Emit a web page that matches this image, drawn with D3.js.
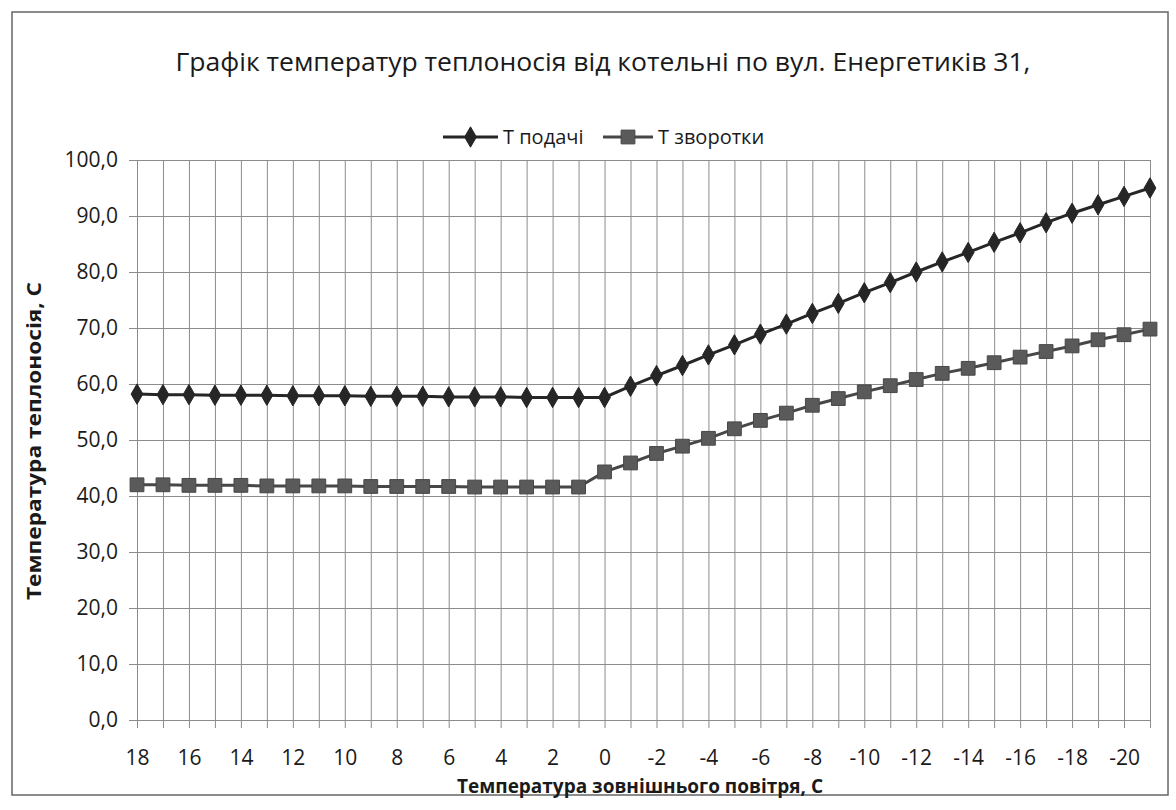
<!DOCTYPE html>
<html>
<head>
<meta charset="utf-8">
<script src="https://cdn.jsdelivr.net/npm/d3@7"></script>
<style>
  html, body { margin: 0; padding: 0; background: #fff; }
  svg { display: block; }
  text { font-family: "Open Sans", "Noto Sans", sans-serif; fill: #1a1a1a; }
  .grid line { stroke: #8c8c8c; stroke-width: 1; }
</style>
</head>
<body>
<svg id="chart" width="1176" height="810"></svg>
<script>
// температура зовнішнього повітря
const categories = [18, 17, 16, 15, 14, 13, 12, 11, 10, 9, 8, 7, 6, 5, 4, 3, 2, 1, 0,
  -1, -2, -3, -4, -5, -6, -7, -8, -9, -10, -11, -12, -13, -14, -15, -16, -17, -18, -19, -20, -21]

// Т подачі
const supply = [58.2, 58.1, 58.1, 58.0, 58.0, 58.0, 57.9, 57.9, 57.9, 57.8, 57.8, 57.8, 57.7, 57.7, 57.7, 57.6, 57.6, 57.6, 57.6,
  59.6, 61.5, 63.3, 65.2, 67.0, 68.9, 70.7, 72.6, 74.4, 76.3, 78.1, 80.0, 81.8, 83.5, 85.3, 87.0, 88.8, 90.5, 92.0, 93.5, 95.0]

// Т зворотки
const returnT = [42.0, 42.0, 41.9, 41.9, 41.9, 41.8, 41.8, 41.8, 41.8, 41.7, 41.7, 41.7, 41.7, 41.6, 41.6, 41.6, 41.6, 41.6, 44.3,
  45.9, 47.6, 48.9, 50.3, 52.0, 53.5, 54.8, 56.2, 57.4, 58.6, 59.7, 60.8, 61.9, 62.8, 63.8, 64.8, 65.8, 66.8, 67.9, 68.8, 69.8]

const yTicks = [0, 10, 20, 30, 40, 50, 60, 70, 80, 90, 100]
const xTickLabels = [18, 16, 14, 12, 10, 8, 6, 4, 2, 0, -2, -4, -6, -8, -10, -12, -14, -16, -18, -20]

const seriesNames = ['Т подачі', 'Т зворотки']

const plot = { left: 137, right: 1150, top: 160, bottom: 720 }
const tickOut = 8

const svg = d3.select('#chart')

// рамка діаграми
svg.append('rect')
  .attr('x', 12).attr('y', 12)
  .attr('width', 1156).attr('height', 783)
  .attr('fill', '#fff')
  .attr('stroke', '#666')
  .attr('stroke-width', 1.5)

svg.append('text')
  .attr('x', 603).attr('y', 71)
  .attr('text-anchor', 'middle')
  .attr('font-size', 25)
  .attr('textLength', 855)
  .attr('lengthAdjust', 'spacingAndGlyphs')
  .text('Графік температур теплоносія від котельні по вул. Енергетиків 31,')

const x = d3.scalePoint()
  .domain(categories)
  .range([plot.left, plot.right])

const y = d3.scaleLinear()
  .domain([0, 100])
  .range([plot.bottom, plot.top])

/* ------- GRID + AXES ------- */
const yAxis = svg.append('g')
  .attr('class', 'grid')
  .attr('transform', `translate(${plot.left - tickOut},0)`)
  .call(d3.axisLeft(y)
    .tickValues(yTicks)
    .tickSize(-(plot.right - plot.left + tickOut))
    .tickSizeOuter(0)
    .tickPadding(11)
    .tickFormat(d => d3.format('.1f')(d).replace('.', ',')))
yAxis.select('.domain').remove()
yAxis.selectAll('text').attr('font-size', 21)

const xAxis = svg.append('g')
  .attr('class', 'grid')
  .attr('transform', `translate(0,${plot.bottom + tickOut})`)
  .call(d3.axisBottom(x)
    .tickSize(-(plot.bottom - plot.top + tickOut))
    .tickSizeOuter(0)
    .tickPadding(22)
    .tickFormat(d => xTickLabels.includes(d) ? String(d) : ''))
xAxis.select('.domain').remove()
xAxis.selectAll('text').attr('font-size', 21)

svg.append('text')
  .attr('transform', 'translate(41,441) rotate(-90)')
  .attr('text-anchor', 'middle')
  .attr('font-size', 20)
  .attr('font-weight', 'bold')
  .attr('textLength', 318)
  .attr('lengthAdjust', 'spacingAndGlyphs')
  .text('Температура теплоносія, С')

svg.append('text')
  .attr('x', 640).attr('y', 793)
  .attr('text-anchor', 'middle')
  .attr('font-size', 19)
  .attr('font-weight', 'bold')
  .attr('textLength', 366)
  .attr('lengthAdjust', 'spacingAndGlyphs')
  .text('Температура зовнішнього повітря, С')

/* ------- LINES ------- */
const styles = [
  { color: '#262626', fill: '#262626', symbol: d3.symbolDiamond, size: 120 },
  { color: '#474747', fill: '#5a5a5a', symbol: d3.symbolSquare, size: 190 }
]

const line = d3.line()
  .x((d, i) => x(categories[i]))
  .y(d => y(d))

;[supply, returnT].forEach((values, s) => {
  const st = styles[s]
  svg.append('path')
    .datum(values)
    .attr('fill', 'none')
    .attr('stroke', st.color)
    .attr('stroke-width', 3)
    .attr('d', line)

  svg.append('g').selectAll('path')
    .data(values)
    .enter()
    .append('path')
    .attr('transform', (d, i) => `translate(${x(categories[i])},${y(d)})`)
    .attr('d', d3.symbol().type(st.symbol).size(st.size))
    .attr('fill', st.fill)
    .attr('stroke', st.color)
    .attr('stroke-width', 1)
})

/* ------- LEGEND ------- */
const legendItems = [
  { x0: 443, x1: 498, tx: 503 },
  { x0: 603, x1: 653, tx: 658 }
]
legendItems.forEach((it, s) => {
  const st = styles[s]
  const g = svg.append('g')
  g.append('line')
    .attr('x1', it.x0).attr('x2', it.x1)
    .attr('y1', 137).attr('y2', 137)
    .attr('stroke', st.color)
    .attr('stroke-width', 3)
  g.append('path')
    .attr('transform', `translate(${(it.x0 + it.x1) / 2},137)`)
    .attr('d', d3.symbol().type(st.symbol).size(st.size))
    .attr('fill', st.fill)
    .attr('stroke', st.color)
  g.append('text')
    .attr('x', it.tx).attr('y', 144)
    .attr('font-size', 20)
    .text(seriesNames[s])
})
</script>
</body>
</html>
